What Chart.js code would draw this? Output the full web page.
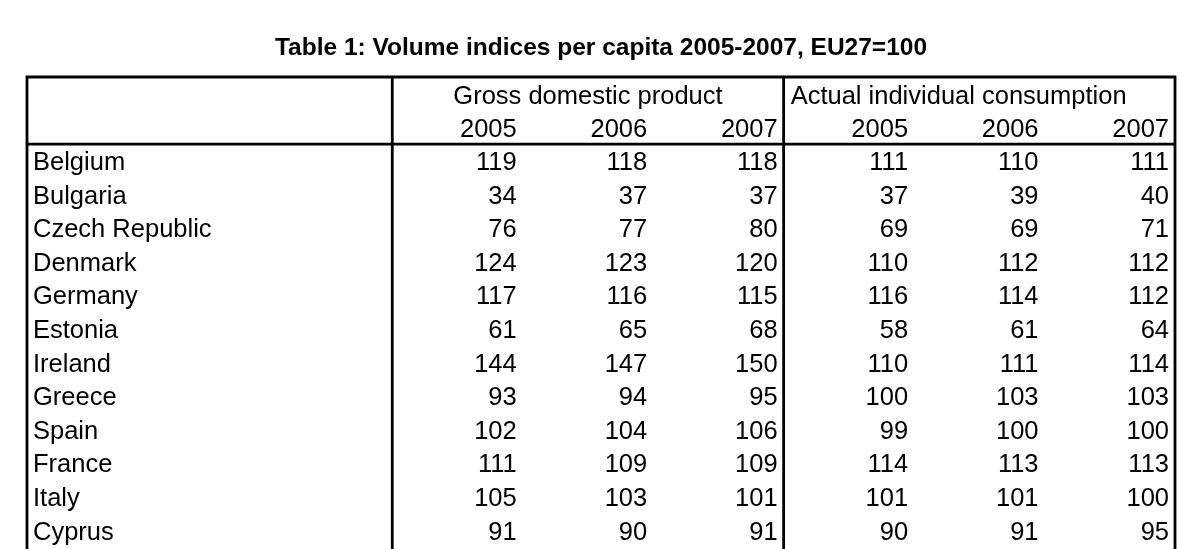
<!DOCTYPE html>
<html>
<head>
<meta charset="utf-8">
<script src="https://cdn.jsdelivr.net/npm/chart.js@4.4.0/dist/chart.umd.min.js"></script>
<style>
  html, body { margin: 0; padding: 0; background: #fff; }
  #wrap { width: 1200px; height: 549px; position: relative; }
</style>
</head>
<body>
<div id="wrap"><canvas id="myTable"></canvas></div>
<script>
const titleText = 'Table 1: Volume indices per capita 2005-2007, EU27=100';
const groups = ['Gross domestic product', 'Actual individual consumption'];
const years = ['2005', '2006', '2007'];
const countries = [
  'Belgium', 'Bulgaria', 'Czech Republic', 'Denmark', 'Germany', 'Estonia',
  'Ireland', 'Greece', 'Spain', 'France', 'Italy', 'Cyprus',
];
const gdp2005 = [119, 34, 76, 124, 117, 61, 144, 93, 102, 111, 105, 91];
const gdp2006 = [118, 37, 77, 123, 116, 65, 147, 94, 104, 109, 103, 90];
const gdp2007 = [118, 37, 80, 120, 115, 68, 150, 95, 106, 109, 101, 91];
const aic2005 = [111, 37, 69, 110, 116, 58, 110, 100, 99, 114, 101, 90];
const aic2006 = [110, 39, 69, 112, 114, 61, 111, 103, 100, 113, 101, 91];
const aic2007 = [111, 40, 71, 112, 112, 64, 114, 103, 100, 113, 100, 95];

// table units: label column is 2.8 wide, each number column is 1 wide
const labelCol = 2.8;
const headRows = 2;
const columns = [gdp2005, gdp2006, gdp2007, aic2005, aic2006, aic2007];
const nCols = columns.length;

const FONT = '"Liberation Sans", Arial, sans-serif';

// each cell is a point: x = right edge of its column, y = middle of its row
const cellSets = columns.map((col, j) => ({
  label: (j < 3 ? 'GDP ' : 'AIC ') + years[j % 3],
  data: col.map((v, i) => ({ x: labelCol + j + 1, y: headRows + i + 0.5, v: v })),
}));
const countrySet = {
  label: 'countries',
  data: countries.map((c, i) => ({ x: 0, y: headRows + i + 0.5, v: c })),
};

const tablePlugin = {
  id: 'tablePlugin',
  afterDatasetsDraw(chart) {
    const { ctx, chartArea } = chart;
    const xs = chart.scales.x;
    const ys = chart.scales.y;
    ctx.save();

    // cells
    ctx.fillStyle = '#000';
    ctx.font = '25.5px ' + FONT;
    ctx.textBaseline = 'middle';
    chart.data.datasets.forEach((ds, k) => {
      const meta = chart.getDatasetMeta(k);
      const isLabel = ds.label === 'countries';
      ctx.textAlign = isLabel ? 'left' : 'right';
      meta.data.forEach((pt, i) => {
        const txt = String(ds.data[i].v);
        ctx.fillText(txt, pt.x + (isLabel ? 6 : -6), pt.y + 2);
      });
    });

    // header: group names
    const y0 = ys.getPixelForValue(0.5) + 3;
    ctx.textAlign = 'center';
    ctx.fillText(groups[0], (xs.getPixelForValue(labelCol) + xs.getPixelForValue(labelCol + 3)) / 2, y0);
    ctx.textAlign = 'left';
    ctx.fillText(groups[1], xs.getPixelForValue(labelCol + 3) + 7, y0);

    // header: years
    const y1 = ys.getPixelForValue(1.5) + 3;
    ctx.textAlign = 'right';
    for (let j = 0; j < nCols; j++) {
      ctx.fillText(years[j % 3], xs.getPixelForValue(labelCol + j + 1) - 6, y1);
    }

    // borders
    ctx.strokeStyle = '#000';
    ctx.lineWidth = 2.8;
    const top = ys.getPixelForValue(0);
    const bottom = chartArea.bottom + 2;
    const left = xs.getPixelForValue(0);
    const right = xs.getPixelForValue(labelCol + nCols);
    ctx.beginPath();
    ctx.moveTo(left, bottom);
    ctx.lineTo(left, top);
    ctx.lineTo(right, top);
    ctx.lineTo(right, bottom);
    [labelCol, labelCol + 3].forEach((v) => {
      const px = xs.getPixelForValue(v);
      ctx.moveTo(px, top);
      ctx.lineTo(px, bottom);
    });
    const hy = ys.getPixelForValue(headRows);
    ctx.moveTo(left, hy);
    ctx.lineTo(right, hy);
    ctx.stroke();

    ctx.restore();
  },
};

new Chart(document.getElementById('myTable'), {
  type: 'scatter',
  data: {
    datasets: [countrySet, ...cellSets],
  },
  options: {
    responsive: true,
    maintainAspectRatio: false,
    animation: false,
    elements: { point: { radius: 0, hoverRadius: 0 } },
    layout: { padding: { left: 27, right: 25, bottom: 0 } },
    plugins: {
      legend: { display: false },
      tooltip: { enabled: false },
      title: {
        display: true,
        text: titleText,
        color: '#000',
        font: { family: FONT, size: 24.5, weight: 'bold' },
        padding: { top: 34, bottom: 13.6 },
      },
    },
    scales: {
      x: { type: 'linear', display: false, min: 0, max: labelCol + nCols },
      y: { type: 'linear', display: false, reverse: true, min: 0, max: 14.05 },
    },
  },
  plugins: [tablePlugin],
});
</script>
</body>
</html>
